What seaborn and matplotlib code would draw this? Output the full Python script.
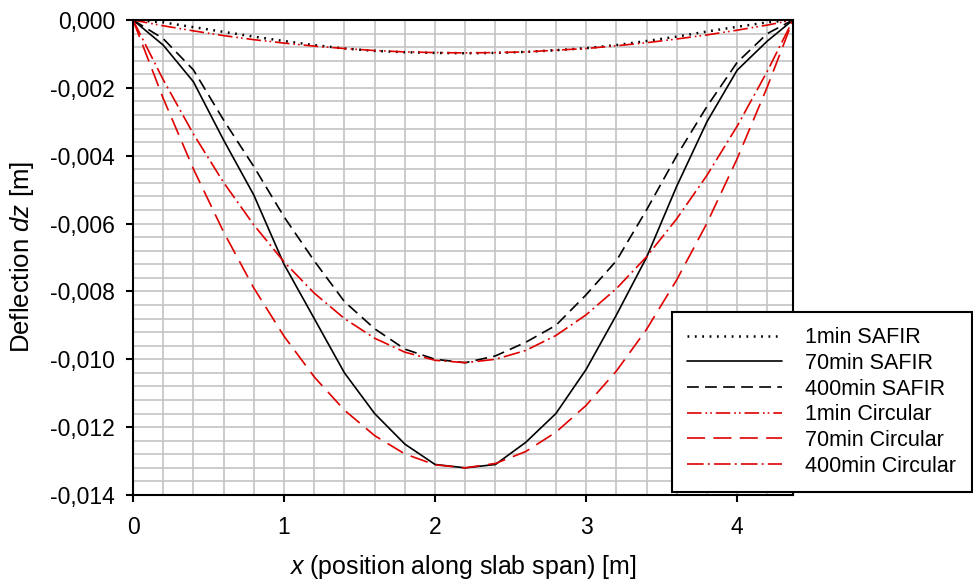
import matplotlib
matplotlib.use("Agg")
import matplotlib.pyplot as plt
from matplotlib.ticker import MultipleLocator, FuncFormatter
import seaborn as sns

# Position along the slab span [m]
x_pos = [0.0, 0.2, 0.4, 0.6, 0.8, 1.0, 1.2, 1.4, 1.6, 1.8, 2.0, 2.2,
         2.4, 2.6, 2.8, 3.0, 3.2, 3.4, 3.6, 3.8, 4.0, 4.2, 4.37]

# Vertical deflection dz [m]
safir_1min = [0.0, -0.00007, -0.00021, -0.00035, -0.00049, -0.00062, -0.00074, -0.00084,
              -0.00091, -0.00095, -0.00097, -0.00098, -0.00097, -0.00094, -0.00089, -0.00083,
              -0.00074, -0.00062, -0.00049, -0.00034, -0.00020, -0.00007, 0.0]
safir_70min = [0.0, -0.00074, -0.00182, -0.00354, -0.00516, -0.0072, -0.0088, -0.0104,
               -0.0116, -0.0125, -0.0131, -0.0132, -0.0131, -0.01245, -0.0116, -0.0103,
               -0.0087, -0.0070, -0.0049, -0.0030, -0.00148, -0.00062, 0.0]
safir_400min = [0.0, -0.00055, -0.00147, -0.00295, -0.00432, -0.0058, -0.0071, -0.0083,
                -0.0091, -0.0097, -0.0100, -0.0101, -0.0099, -0.0095, -0.0090, -0.0081,
                -0.0071, -0.0056, -0.0040, -0.00255, -0.00125, -0.0004, 0.0]
circ_1min = [0.0, -0.00017, -0.00032, -0.00046, -0.00058, -0.00068, -0.00077, -0.00084,
             -0.00090, -0.00094, -0.00096, -0.00097, -0.00096, -0.00094, -0.00089, -0.00084,
             -0.00076, -0.00067, -0.00056, -0.00044, -0.00030, -0.00015, 0.0]
circ_70min = [0.0, -0.00231, -0.00439, -0.00625, -0.00790, -0.00932, -0.01052, -0.01150,
              -0.01225, -0.01279, -0.01311, -0.01320, -0.01307, -0.01272, -0.01215, -0.01136,
              -0.01035, -0.00912, -0.00766, -0.00599, -0.00409, -0.00197, 0.0]
circ_400min = [0.0, -0.00176, -0.00336, -0.00479, -0.00604, -0.00713, -0.00805, -0.00880,
               -0.00938, -0.00979, -0.01003, -0.01010, -0.01000, -0.00974, -0.00930, -0.00869,
               -0.00792, -0.00698, -0.00586, -0.00458, -0.00313, -0.00151, 0.0]

labels = ["1min SAFIR", "70min SAFIR", "400min SAFIR",
          "1min Circular", "70min Circular", "400min Circular"]

sns.set_style("ticks")
plt.rcParams["font.family"] = ["Liberation Sans", "DejaVu Sans"]
plt.rcParams["mathtext.fontset"] = "custom"
plt.rcParams["mathtext.rm"] = "Liberation Sans"
plt.rcParams["mathtext.it"] = "Liberation Sans:italic"
plt.rcParams["lines.scale_dashes"] = False
plt.rcParams["text.color"] = "black"
plt.rcParams["axes.labelcolor"] = "black"

BLACK = "#000000"
RED = "#e00000"

series = [
    (safir_1min, BLACK, (0, (1.3, 4.0)), 1.8),
    (safir_70min, BLACK, "-", 1.2),
    (safir_400min, BLACK, (0, (8.5, 4.5)), 1.2),
    (circ_1min, RED, (0, (10.5, 2.8, 1.2, 2.2, 1.2, 2.8)), 1.2),
    (circ_70min, RED, (0, (13.0, 6.0)), 1.2),
    (circ_400min, RED, (0, (12.0, 3.0, 1.4, 3.0)), 1.2),
]

fig = plt.figure(figsize=(9.73, 5.83), dpi=100)
ax = fig.add_axes([133 / 973, 1 - 495 / 583, 660 / 973, 475 / 583])

for (vals, color, ls, lw), lab in zip(series, labels):
    sns.lineplot(x=x_pos, y=vals, ax=ax, color=color, linestyle=ls, lw=lw,
                 label=lab, estimator=None, sort=False, legend=False)

ax.set_xlim(0, 4.37)
ax.set_ylim(-0.014, 0.0)

ax.xaxis.set_major_locator(MultipleLocator(1))
ax.xaxis.set_minor_locator(MultipleLocator(0.2))
ax.yaxis.set_major_locator(MultipleLocator(0.002))
ax.yaxis.set_minor_locator(MultipleLocator(0.0004))


def comma_fmt(v, _pos):
    if abs(v) < 1e-12:
        v = 0.0
    return f"{v:.3f}".replace(".", ",")


ax.yaxis.set_major_formatter(FuncFormatter(comma_fmt))
ax.xaxis.set_major_formatter(FuncFormatter(lambda v, _p: f"{v:g}"))

ax.set_axisbelow(True)
ax.grid(which="both", color="#c4c4c4", lw=1.2)

for side in ["left", "right", "top", "bottom"]:
    ax.spines[side].set_visible(True)
    ax.spines[side].set_color("black")
    ax.spines[side].set_linewidth(1.5)

ax.tick_params(axis="both", which="major", direction="out", length=5, width=1.5,
               labelsize=16.5, colors="black")
ax.tick_params(axis="x", which="major", pad=10)
ax.tick_params(axis="y", which="major", pad=8)
ax.tick_params(axis="both", which="minor", length=0)

ax.set_xlabel(r"$x$ (position along slab span) [m]", fontsize=18, labelpad=10)
ax.set_ylabel(r"Deflection $dz$ [m]", fontsize=18.5, labelpad=10)

leg = ax.legend(loc="upper left", bbox_to_anchor=(672 / 973, 1 - 312 / 583),
                bbox_transform=fig.transFigure, borderaxespad=0, fontsize=15.5,
                handlelength=4.4, handletextpad=1.1, labelspacing=0.22,
                borderpad=0.7, fancybox=False, framealpha=1, edgecolor="black")
leg.get_frame().set_linewidth(1.5)

fig.savefig("out.png", dpi=100)
